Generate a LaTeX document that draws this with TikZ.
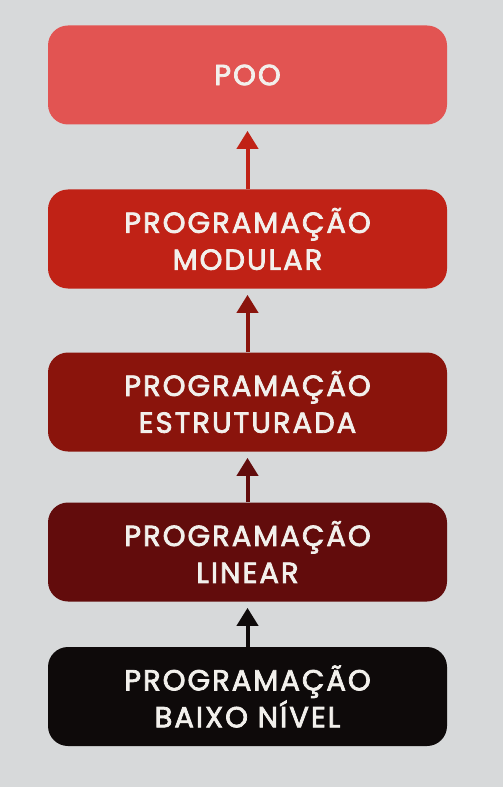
\documentclass[tikz,border=0pt]{standalone}
\usepackage{fontspec}
\newfontfamily\levelfont{Poppins}[LetterSpace = 7, FakeBold = 2.6]
\usetikzlibrary{arrows.meta}

\definecolor{bgGray}{RGB}{215,217,218}
\definecolor{pooRed}{RGB}{226,84,82}
\definecolor{modRed}{RGB}{192,34,22}
\definecolor{estRed}{RGB}{138,20,12}
\definecolor{linRed}{RGB}{98,12,12}
\definecolor{lowBlack}{RGB}{14,10,10}
\definecolor{txtWhite}{RGB}{242,240,236}

\tikzset{
	level/.style = {rounded corners = 0.4cm, minimum width = 7.98cm, minimum height = 1.98cm,
		align = center, text = txtWhite, font = \levelfont\fontsize{16.5}{21}\selectfont},
	climb/.style = {->, line width = 0.08cm, shorten > = 0.12cm}
}

\begin{document}
\begin{tikzpicture}[> = {Triangle[width = 0.42cm, length = 0.36cm]}]

	% Background
	
	\fill [bgGray] (0, 0) rectangle (10.06, -15.74);
	\useasboundingbox (0, 0) rectangle (10.06, -15.74);
	
	% Levels
	
	\node [level, fill = pooRed]   (poo) at (4.95, -1.50)  {POO};
	\node [level, fill = modRed]   (mod) at (4.95, -4.78)  {PROGRAMAÇÃO\\MODULAR};
	\node [level, fill = estRed]   (est) at (4.95, -8.04)  {PROGRAMAÇÃO\\ESTRUTURADA};
	\node [level, fill = linRed]   (lin) at (4.95, -11.04) {PROGRAMAÇÃO\\LINEAR};
	\node [level, fill = lowBlack] (low) at (4.95, -13.93) {PROGRAMAÇÃO\\BAIXO NÍVEL};
	
	% Arrows
	
	\begin{scope}[climb]
	
		\draw [modRed]   (mod.north) -- (poo.south);
		\draw [estRed]   (est.north) -- (mod.south);
		\draw [linRed]   (lin.north) -- (est.south);
		\draw [lowBlack] (low.north) -- (lin.south);
	
	\end{scope}

\end{tikzpicture}
\end{document}
